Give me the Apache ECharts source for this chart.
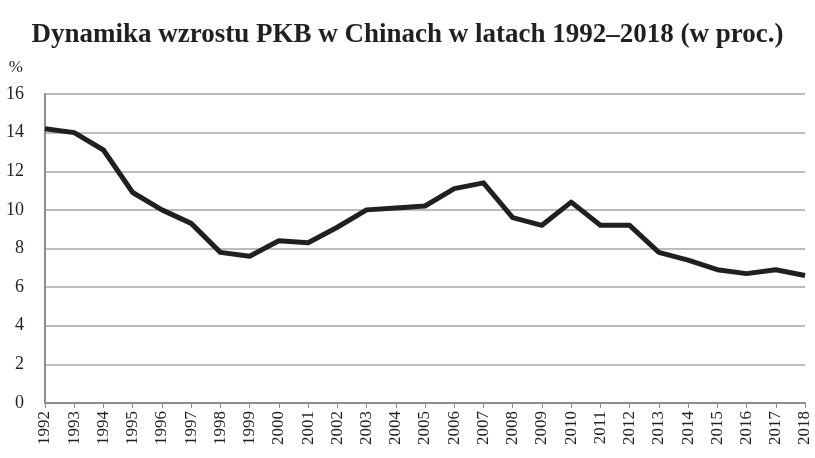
<!DOCTYPE html>
<html>
<head>
<meta charset="utf-8">
<script src="https://cdn.jsdelivr.net/npm/echarts@6/dist/echarts.min.js"></script>
<style>
  html, body { margin: 0; padding: 0; background: #fff; }
  #wykres { width: 815px; height: 458px; }
</style>
</head>
<body>
<div id="wykres"></div>
<script>
// Dane
const lata = ['1992','1993','1994','1995','1996','1997','1998','1999','2000','2001','2002','2003','2004',
  '2005','2006','2007','2008','2009','2010','2011','2012','2013','2014','2015','2016','2017','2018'];
const wzrostPKB = [14.2, 14.0, 13.1, 10.9, 10.0, 9.3, 7.8, 7.6, 8.4, 8.3, 9.1, 10.0, 10.1,
  10.2, 11.1, 11.4, 9.6, 9.2, 10.4, 9.2, 9.2, 7.8, 7.4, 6.9, 6.7, 6.9, 6.6];

const czcionka = '"Liberation Serif", "Times New Roman", serif';

function iniciar() {
    const chartDom = document.getElementById('wykres');
    const myChart = echarts.init(chartDom, null, {renderer: 'canvas'});

    const option = {
        animation: false,
        title: {
            text: 'Dynamika wzrostu PKB w Chinach w latach 1992\u20132018 (w proc.)',
            left: 'center',
            top: 17,
            textStyle: {
                fontFamily: czcionka,
                fontSize: 27,
                fontWeight: 'bold',
                color: '#231f20'
            }
        },
        grid: { left: 45, right: 10, top: 94, bottom: 55 },
        xAxis: {
            type: 'category',
            data: lata,
            boundaryGap: false,
            axisLine: { lineStyle: { color: '#8c8c8c', width: 2 } },
            axisTick: { show: true, length: 5, lineStyle: { color: '#8c8c8c' } },
            axisLabel: {
                rotate: 90,
                interval: 0,
                margin: 8,
                fontFamily: czcionka,
                fontSize: 17,
                color: '#231f20'
            }
        },
        yAxis: {
            type: 'value',
            min: 0,
            max: 16,
            interval: 2,
            name: '%',
            nameLocation: 'end',
            nameGap: 18,
            nameTextStyle: {
                fontFamily: czcionka,
                fontSize: 17,
                color: '#231f20',
                align: 'right',
                padding: [0, 22, 0, 0]
            },
            axisLine: { show: true, lineStyle: { color: '#8c8c8c', width: 2 } },
            axisTick: { show: false },
            splitLine: { lineStyle: { color: '#a6a6a6', width: 1.5 } },
            axisLabel: {
                margin: 21,
                fontFamily: czcionka,
                fontSize: 18,
                color: '#231f20'
            }
        },
        series: [{
            name: 'PKB',
            type: 'line',
            data: wzrostPKB,
            symbol: 'none',
            lineStyle: { color: '#231f20', width: 5, join: 'round' }
        }]
    };

    myChart.setOption(option);
}

iniciar();
</script>
</body>
</html>
